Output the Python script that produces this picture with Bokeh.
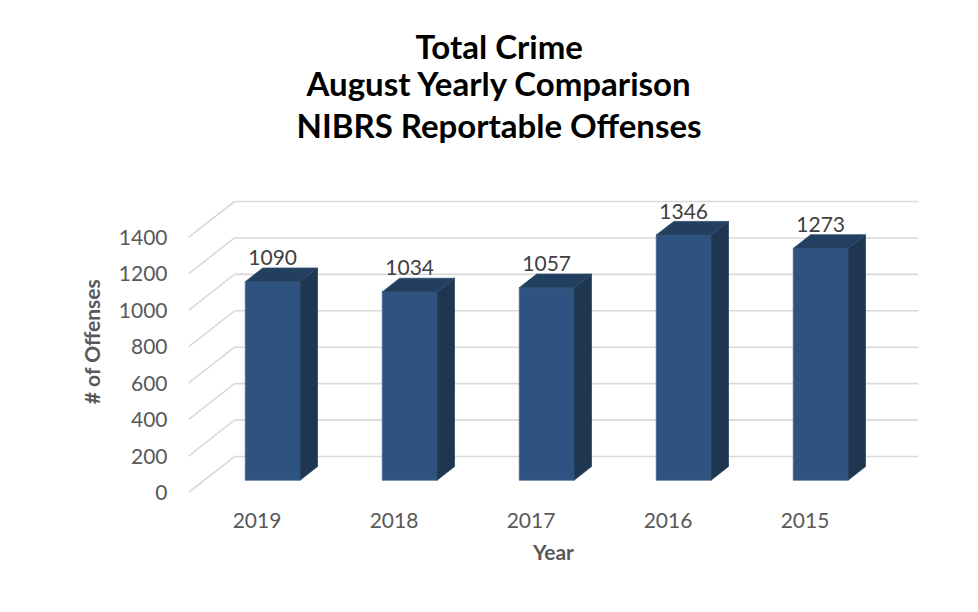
from bokeh.plotting import figure
from bokeh.models import FixedTicker, Title, ColumnDataSource, Range1d
from bokeh.core.properties import value
from bokeh.embed import file_html
from bokeh.resources import INLINE

# ---- data ----
years = ["2019", "2018", "2017", "2016", "2015"]
offenses = [1090, 1034, 1057, 1346, 1273]
y_ticks = [0, 200, 400, 600, 800, 1000, 1200, 1400]
title_lines = ["Total Crime", "August Yearly Comparison", "NIBRS Reportable Offenses"]

# ---- 3D geometry (data units) ----
X_END = 5.3285          # back wall right end
Y_END = 1658
DEPTH_X = 0.3358        # full floor depth in x units
DEPTH_Y = 197.6         # full floor depth in value units
F_FRONT = 0.34          # bar front plane position (fraction of depth)
F_BACK = 0.72           # bar back plane position
HALF_W = 0.2

FONT = "Lato"

p = figure(width=962, height=596, output_backend="svg", toolbar_location=None,
           title=None,
           x_range=Range1d(0, X_END), y_range=Range1d(0, Y_END),
           min_border_left=188, min_border_right=44, min_border_top=190,
           min_border_bottom=104)
p.outline_line_color = None
p.grid.visible = False
p.background_fill_color = "white"
p.border_fill_color = "white"

# gridlines: diagonal on side wall + horizontal on back wall
grid_color = "#d9d9d9"
p.segment(x0=[0] * len(y_ticks), y0=y_ticks,
          x1=[DEPTH_X] * len(y_ticks), y1=[t + DEPTH_Y for t in y_ticks],
          line_color=grid_color, line_width=1.6)
p.segment(x0=[DEPTH_X] * len(y_ticks), y0=[t + DEPTH_Y for t in y_ticks],
          x1=[X_END] * len(y_ticks), y1=[t + DEPTH_Y for t in y_ticks],
          line_color=grid_color, line_width=1.6)

# bars
fx, fy = F_FRONT * DEPTH_X, F_FRONT * DEPTH_Y
bx, by = F_BACK * DEPTH_X, F_BACK * DEPTH_Y
centers = [i + 0.5 for i in range(len(years))]

front_src = ColumnDataSource(dict(
    left=[c - HALF_W + fx for c in centers],
    right=[c + HALF_W + fx for c in centers],
    bottom=[fy] * len(centers),
    top=[v + fy for v in offenses]))
p.quad(left="left", right="right", bottom="bottom", top="top", source=front_src,
       fill_color="#2f5381", line_color="#4a6a95", line_width=0.8)

side_xs, side_ys, top_xs, top_ys = [], [], [], []
for c, v in zip(centers, offenses):
    r1, r2 = c + HALF_W + fx, c + HALF_W + bx
    l1, l2 = c - HALF_W + fx, c - HALF_W + bx
    side_xs.append([r1, r2, r2, r1])
    side_ys.append([fy, by, v + by, v + fy])
    top_xs.append([l1, l2, r2, r1])
    top_ys.append([v + fy, v + by, v + by, v + fy])
p.patches(side_xs, side_ys, fill_color="#1f3650", line_color="#2c4566", line_width=0.8)
p.patches(top_xs, top_ys, fill_color="#233f60", line_color="#2c4a70", line_width=0.8)

# data labels
p.text(x=[c + fx for c in centers], y=[v + fy for v in offenses],
       text=[str(v) for v in offenses], text_align="center", text_baseline="middle",
       y_offset=-24, text_font=value(FONT), text_font_size="21px", text_color="#404040")

# axes
p.yaxis.ticker = FixedTicker(ticks=y_ticks)
p.xaxis.ticker = FixedTicker(ticks=centers)
p.xaxis.major_label_overrides = {c: y for c, y in zip(centers, years)}
for ax in (p.xaxis, p.yaxis):
    ax.axis_line_color = None
    ax.major_tick_line_color = None
    ax.minor_tick_line_color = None
    ax.major_tick_out = 0
    ax.major_tick_in = 0
    ax.major_label_text_font = FONT
    ax.major_label_text_font_size = "21px"
    ax.major_label_text_color = "#595959"
    ax.axis_label_text_font = FONT
    ax.axis_label_text_font_size = "21px"
    ax.axis_label_text_font_style = "bold"
    ax.axis_label_text_color = "#595959"
p.yaxis.major_label_standoff = 21
p.xaxis.major_label_standoff = 20
p.xaxis.axis_label = "Year"
p.yaxis.axis_label = "# of Offenses"
p.xaxis.axis_label_standoff = 8
p.yaxis.axis_label_standoff = 12

# spacer between frame and title block
p.add_layout(Title(text=" ", text_font=FONT, text_font_size="10px", standoff=32), "above")
# title lines (added nearest-first), left-aligned with offsets so they centre near x=498
title_offsets = [227, 118, 108]
title_standoffs = [-10, 0, 0]
for line, off, so in reversed(list(zip(title_lines, title_offsets, title_standoffs))):
    t = Title(text=line, align="left", offset=off, text_font=FONT, text_font_size="33px",
              text_font_style="bold", text_color="#000000", standoff=so)
    p.add_layout(t, "above")

open("out.html", "w").write(file_html(p, INLINE))
